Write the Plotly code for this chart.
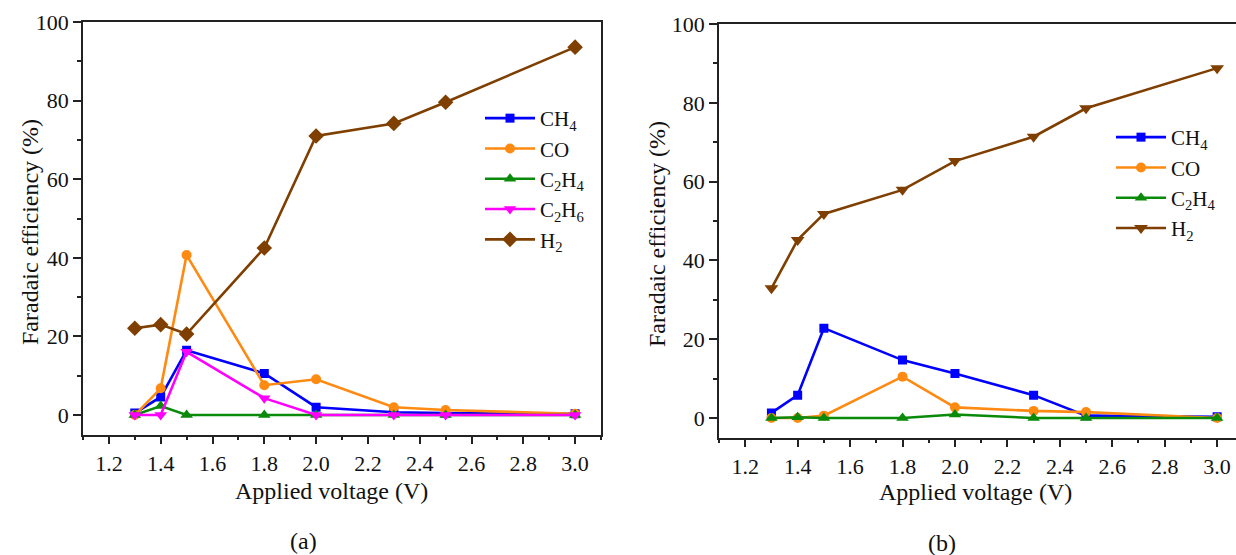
import plotly.graph_objects as go

W, H = 1236, 555

voltage = [1.3, 1.4, 1.5, 1.8, 2.0, 2.3, 2.5, 3.0]

# Panel (a)
a_ch4 = [0.5, 4.6, 16.5, 10.6, 2.0, 0.7, 0.5, 0.3]
a_co = [0.0, 6.8, 40.7, 7.6, 9.1, 2.0, 1.3, 0.3]
a_c2h4 = [0.0, 2.3, 0.0, 0.0, 0.0, 0.0, 0.0, 0.0]
a_c2h6 = [0.0, 0.0, 16.1, 4.3, 0.0, 0.0, 0.0, 0.0]
a_h2 = [22.1, 23.0, 20.6, 42.5, 71.0, 74.2, 79.6, 93.6]

# Panel (b)
b_ch4 = [1.3, 5.8, 22.8, 14.7, 11.3, 5.8, 0.6, 0.3]
b_co = [0.0, 0.0, 0.6, 10.5, 2.7, 1.8, 1.5, 0.0]
b_c2h4 = [0.0, 0.2, 0.0, 0.0, 0.9, 0.0, 0.0, 0.0]
b_h2 = [32.9, 45.2, 51.8, 57.9, 65.2, 71.4, 78.6, 88.8]

x_ticks = [1.2, 1.4, 1.6, 1.8, 2.0, 2.2, 2.4, 2.6, 2.8, 3.0]
y_ticks = [0, 20, 40, 60, 80, 100]

FONT = "Liberation Serif"
BLUE, ORANGE, GREEN, MAGENTA, BROWN = "#0000FF", "#FF8A12", "#0A8A0A", "#FF00FF", "#7F3F00"
AX = "#222222"

fig = go.Figure()

def add(x, y, name, color, symbol, xa, ya, legend, size=9):
    fig.add_trace(go.Scatter(
        x=x, y=y, name=name, mode="lines+markers",
        line=dict(color=color, width=2.6),
        marker=dict(color=color, symbol=symbol, size=size),
        xaxis=xa, yaxis=ya, legend=legend))

add(voltage, a_ch4, "CH<sub>4</sub>", BLUE, "square", "x", "y", "legend", 9)
add(voltage, a_co, "CO", ORANGE, "circle", "x", "y", "legend", 10)
add(voltage, a_c2h4, "C<sub>2</sub>H<sub>4</sub>", GREEN, "triangle-up", "x", "y", "legend", 11)
add(voltage, a_c2h6, "C<sub>2</sub>H<sub>6</sub>", MAGENTA, "triangle-down", "x", "y", "legend", 11)
add(voltage, a_h2, "H<sub>2</sub>", BROWN, "diamond", "x", "y", "legend", 12)

add(voltage, b_ch4, "CH<sub>4</sub>", BLUE, "square", "x2", "y2", "legend2", 9)
add(voltage, b_co, "CO", ORANGE, "circle", "x2", "y2", "legend2", 10)
add(voltage, b_c2h4, "C<sub>2</sub>H<sub>4</sub>", GREEN, "triangle-up", "x2", "y2", "legend2", 11)
add(voltage, b_h2, "H<sub>2</sub>", BROWN, "triangle-down", "x2", "y2", "legend2", 12)

def xaxis(domain, rng):
    return dict(domain=domain, range=rng, tickvals=x_ticks, ticktext=[f"{v:.1f}" for v in x_ticks],
                ticks="outside", ticklen=8, tickwidth=1.5, tickcolor=AX,
                minor=dict(dtick=0.1, tick0=1.1, ticks="outside", ticklen=4, tickwidth=1.5, tickcolor=AX),
                showline=True, linecolor=AX, linewidth=1.5, mirror=True,
                showgrid=False, zeroline=False,
                tickfont=dict(family=FONT, size=22, color="#111"))

def yaxis(domain, anchor):
    return dict(domain=domain, range=[-5, 100], anchor=anchor, tickvals=y_ticks,
                ticks="outside", ticklen=8, tickwidth=1.5, tickcolor=AX,
                minor=dict(dtick=10, tick0=0, ticks="outside", ticklen=4, tickwidth=1.5, tickcolor=AX),
                showline=True, linecolor=AX, linewidth=1.5, mirror=True,
                showgrid=False, zeroline=False,
                tickfont=dict(family=FONT, size=22, color="#111"))

xa = xaxis([83 / W, 601 / W], [1.1, 3.1]); xa["anchor"] = "y"
xb = xaxis([719 / W, 1.0], [1.1, 3.072]); xb["anchor"] = "y2"
ya = yaxis([1 - 434.7 / H, 1 - 22 / H], "x")
yb = yaxis([1 - 437.7 / H, 1 - 24 / H], "x2")
yb["mirror"] = False

def legend(xpx, ypx):
    return dict(x=xpx / W, y=1 - ypx / H, xanchor="left", yanchor="top",
                bgcolor="rgba(0,0,0,0)", borderwidth=0, itemwidth=50,
                font=dict(family=FONT, size=21, color="#111"), tracegroupgap=0)

annotations = []
def ann(text, xpx, ypx, size=24, angle=0):
    annotations.append(dict(text=text, x=xpx / W, y=1 - ypx / H, xref="paper", yref="paper",
                            showarrow=False, textangle=angle, xanchor="center", yanchor="middle",
                            font=dict(family=FONT, size=size, color="#111")))

ann("Faradaic efficiency (%)", 30, 232, angle=-90)
ann("Faradaic efficiency (%)", 657, 234, angle=-90)
ann("Applied voltage (V)", 331, 491)
ann("Applied voltage (V)", 976, 492)
ann("(a)", 303, 541)
ann("(b)", 942, 543)

fig.update_layout(
    width=W, height=H, margin=dict(l=0, r=0, t=0, b=0, autoexpand=False),
    paper_bgcolor="white", plot_bgcolor="white",
    font=dict(family=FONT, size=22, color="#111"),
    xaxis=xa, yaxis=ya, xaxis2=xb, yaxis2=yb,
    legend=legend(480, 98), legend2=legend(1111, 117),
    annotations=annotations, showlegend=True,
)

fig.write_html("out.html")
